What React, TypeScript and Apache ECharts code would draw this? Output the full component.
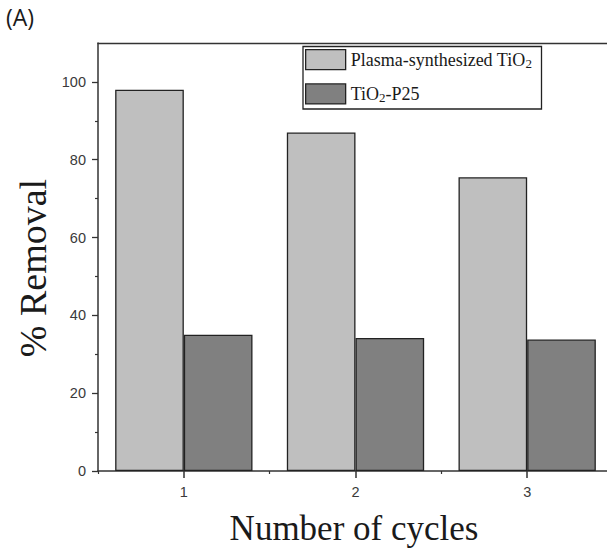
import React, { useEffect, useRef } from "react";
import * as echarts from "echarts";

const categories = ["1", "2", "3"];
const plasmaValues = [98, 87, 75.5];
const p25Values = [35, 34.2, 33.8];
const seriesNames = ["Plasma-synthesized TiO2", "TiO2-P25"];
const majorTicks = [0, 20, 40, 60, 80, 100];
const minorTicks = [10, 30, 50, 70, 90];

export default function App() {
  const ref = useRef<HTMLDivElement>(null);
  useEffect(() => {
    if (!ref.current) return;
    const chart = echarts.init(ref.current, null, { renderer: "svg" });
    const labelFont = {
      fontFamily: "Liberation Sans, Arial, sans-serif",
      fontSize: 14.5,
      color: "#3a3a3a",
    };
    chart.setOption({
      animation: false,
      backgroundColor: "#ffffff",
      grid: {
        left: 98,
        right: 1,
        top: 43,
        bottom: 81,
        show: false,
      },
      legend: {
        orient: "vertical",
        left: 305,
        top: 49,
        padding: 0,
        icon: "rect",
        itemWidth: 40,
        itemHeight: 20,
        itemGap: 13,
        itemStyle: { borderColor: "#222", borderWidth: 1.3 },
        data: seriesNames,
        formatter: (name: string) =>
          name === seriesNames[0]
            ? "{a|Plasma-synthesized TiO}{s|2}"
            : "{a|TiO}{s|2}{a|-P25}",
        textStyle: {
          fontFamily: "Liberation Serif, Times New Roman, serif",
          color: "#1a1a1a",
          rich: {
            a: {
              fontFamily: "Liberation Serif, Times New Roman, serif",
              fontSize: 18,
              lineHeight: 20,
              color: "#1a1a1a",
            },
            s: {
              fontFamily: "Liberation Serif, Times New Roman, serif",
              fontSize: 13,
              lineHeight: 13,
              verticalAlign: "bottom",
              color: "#1a1a1a",
            },
          },
        },
      },
      xAxis: [
        {
          type: "category",
          data: categories,
          boundaryGap: true,
          axisLine: { show: true, lineStyle: { color: "#333", width: 1.5 } },
          axisTick: {
            show: true,
            alignWithLabel: true,
            length: 7,
            lineStyle: { color: "#333", width: 1.5 },
          },
          axisLabel: { ...labelFont, margin: 13 },
          splitLine: { show: false },
        },
        {
          type: "category",
          data: categories,
          position: "bottom",
          boundaryGap: true,
          axisLine: { show: false },
          axisTick: { show: true, length: 3, lineStyle: { color: "#333", width: 1.2 } },
          axisLabel: { show: false },
          splitLine: { show: false },
        },
        {
          type: "category",
          data: categories,
          position: "top",
          boundaryGap: true,
          axisLine: { show: true, lineStyle: { color: "#333", width: 1.3 } },
          axisTick: { show: false },
          axisLabel: { show: false },
          splitLine: { show: false },
        },
      ],
      yAxis: [
        {
          type: "value",
          min: 0,
          max: 110,
          axisLine: { show: true, lineStyle: { color: "#333", width: 1.5 } },
          axisTick: {
            show: true,
            length: 6,
            customValues: majorTicks,
            lineStyle: { color: "#333", width: 1.3 },
          },
          axisLabel: { ...labelFont, margin: 12, customValues: majorTicks },
          splitLine: { show: false },
        },
        {
          type: "value",
          min: 0,
          max: 110,
          position: "left",
          axisLine: { show: false },
          axisTick: {
            show: true,
            length: 3,
            customValues: minorTicks,
            lineStyle: { color: "#333", width: 1.2 },
          },
          axisLabel: { show: false },
          splitLine: { show: false },
        },
      ],
      series: [
        {
          name: seriesNames[0],
          type: "bar",
          data: plasmaValues,
          barGap: "0%",
          barCategoryGap: "20%",
          itemStyle: { color: "#bfbfbf", borderColor: "#222", borderWidth: 1.3 },
        },
        {
          name: seriesNames[1],
          type: "bar",
          data: p25Values,
          barGap: "0%",
          barCategoryGap: "20%",
          itemStyle: { color: "#808080", borderColor: "#222", borderWidth: 1.3 },
        },
      ],
      graphic: [
        {
          type: "rect",
          shape: { x: 303, y: 46.5, width: 238.5, height: 62.5 },
          style: { fill: "none", stroke: "#222", lineWidth: 1.3 },
          z: 100,
        },
        {
          type: "text",
          left: 6,
          top: 5,
          style: {
            text: "(A)",
            fontFamily: "Open Sans, sans-serif",
            fontSize: 23,
            fill: "#1a1a1a",
          },
        },
        {
          type: "text",
          x: 33,
          y: 268,
          rotation: Math.PI / 2,
          style: {
            text: "% Removal",
            fontFamily: "Liberation Serif, Times New Roman, serif",
            fontSize: 38,
            fill: "#1a1a1a",
            textAlign: "center",
            textVerticalAlign: "middle",
          },
        },
        {
          type: "text",
          x: 354,
          y: 528,
          style: {
            text: "Number of cycles",
            fontFamily: "Liberation Serif, Times New Roman, serif",
            fontSize: 35,
            fill: "#1a1a1a",
            textAlign: "center",
            textVerticalAlign: "middle",
          },
        },
      ],
    });
    return () => chart.dispose();
  }, []);
  return (
    <div
      style={{
        position: "absolute",
        left: 0,
        top: 0,
        width: 607,
        height: 552,
        overflow: "hidden",
      }}
    >
      <div ref={ref} style={{ width: 614, height: 552 }} />
    </div>
  );
}
